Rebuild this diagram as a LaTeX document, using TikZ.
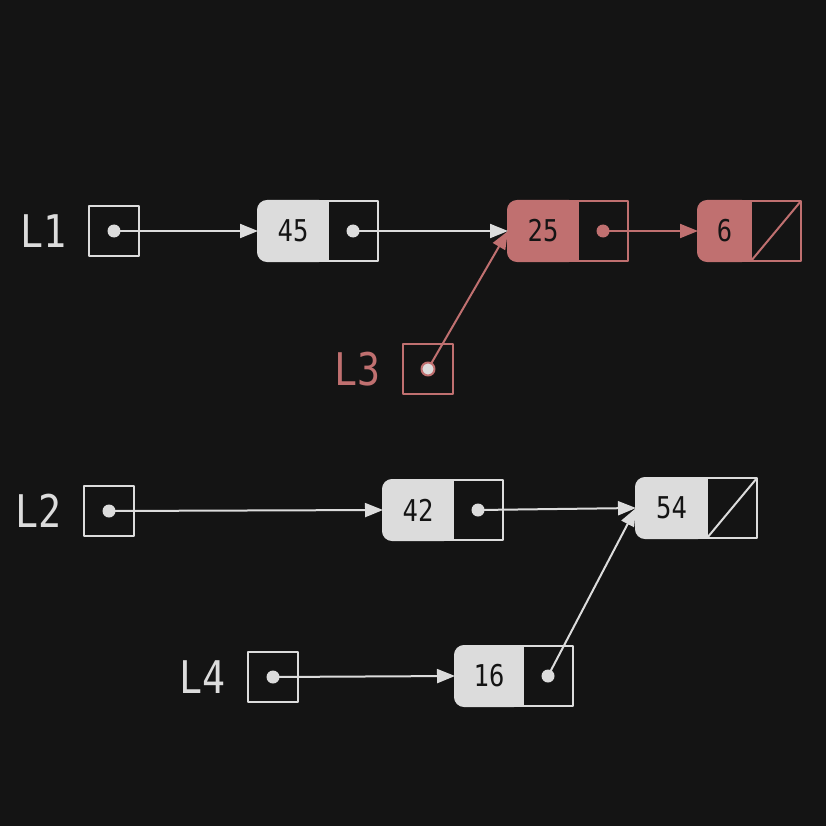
\documentclass[tikz,border=0pt]{standalone}
\usepackage{fontspec}
\newfontfamily\codefont[FakeStretch=0.85]{DejaVu Sans Mono}
\usetikzlibrary{arrows.meta,positioning}
\definecolor{bg}{HTML}{141414}
\definecolor{fg}{HTML}{DCDCDC}
\definecolor{hl}{HTML}{C07070}
\pgfdeclarelayer{back}
\pgfsetlayers{back,main}

\begin{document}
\begin{tikzpicture}[x=1pt, y=-1pt, line join=round, color=fg,
  every path/.append style={line width=2pt},
  >={Triangle[length=18pt,width=14pt]},
  lbl/.style={font=\codefont\fontsize{45}{45}\selectfont, inner sep=0pt},
  ptrbox/.style={draw, fill=bg, minimum size=50pt, inner sep=0pt, outer sep=0pt},
  datapart/.style={draw, fill, text=bg, rounded corners=9pt, minimum width=70pt, minimum height=60pt,
    inner sep=0pt, outer sep=0pt, font=\codefont\fontsize{30}{30}\selectfont},
  nextpart/.style={draw, fill=bg, minimum width=50pt, minimum height=60pt, inner sep=0pt, outer sep=0pt}]
 \begin{pgfonlayer}{back}
  \path[use as bounding box, fill=bg] (0,0) rectangle (826,826);
 \end{pgfonlayer}
 % list heads
 \node[ptrbox] (b1) at (114,231) {};
 \node[ptrbox] (b2) at (109,511) {};
 \node[ptrbox, draw=hl] (b3) at (428,369) {};
 \node[ptrbox] (b4) at (273,677) {};
 \node[lbl, left=21pt of b1] (l1) {L1};
 \node[lbl, left=21pt of b2] (l2) {L2};
 \node[lbl, left=21pt of b3, text=hl] (l3) {L3};
 \node[lbl, left=21pt of b4] (l4) {L4};
 % cells
 \node[datapart] (n45) at (293,231) {45};
 \node[nextpart, right=0pt of n45] (p45) {};
 \node[datapart, draw=hl, fill=hl] (n25) at (543,231) {25};
 \node[nextpart, draw=hl, right=0pt of n25] (p25) {};
 \node[datapart, draw=hl, fill=hl, minimum width=53pt] (n6) at (724.5,231) {6};
 \node[nextpart, draw=hl, right=0pt of n6] (p6) {};
 \node[datapart] (n42) at (418,510) {42};
 \node[nextpart, right=0pt of n42] (p42) {};
 \node[datapart, minimum width=71pt] (n54) at (671.5,508) {54};
 \node[nextpart, right=0pt of n54] (p54) {};
 \node[datapart, minimum width=68pt] (n16) at (489,676) {16};
 \node[nextpart, right=0pt of n16] (p16) {};
 \begin{pgfonlayer}{back}
  \foreach \n/\c in {n45/fg, n25/hl, n6/hl, n42/fg, n54/fg, n16/fg}
   \path[fill=\c, draw=\c, line width=2pt] (\n.north) rectangle (\n.south east);
 \end{pgfonlayer}
 % nil
 \draw[hl] (p6.south west) -- (p6.north east);
 \draw (p54.south west) -- (p54.north east);
 % links
 \draw[->] (b1.center) -- (n45.west);
 \draw[->] (p45.center) -- (n25.west);
 \draw[->, hl] (p25.center) -- (n6.west);
 \draw[->, hl] (b3.center) -- (n25.west);
 \draw[->] (b2.center) -- (n42.west);
 \draw[->] (p42.center) -- (n54.west);
 \draw[->] (b4.center) -- (n16.west);
 \draw[->] (p16.center) -- (n54.west);
 % dots
 \foreach \p in {b1, p45, b2, p42, b4, p16}
  \fill (\p) circle (6.5);
 \fill[hl] (p25) circle (6.5);
 \filldraw[fill=fg, draw=hl] (b3) circle (6.5);
\end{tikzpicture}
\end{document}
